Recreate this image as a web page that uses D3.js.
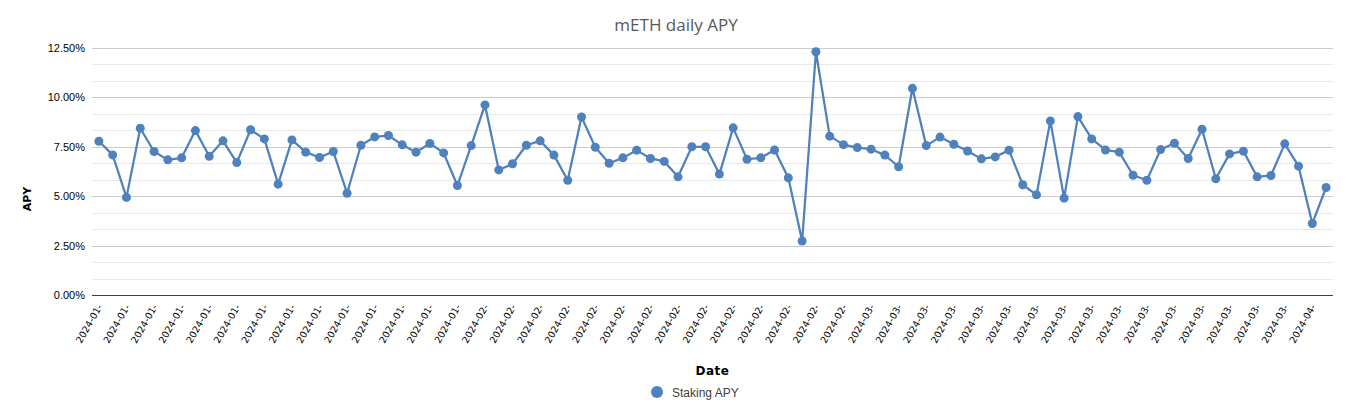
<!DOCTYPE html>
<meta charset="utf-8">
<style>
body{margin:0;background:#fff;}
.axis path{display:none;}
.axis text{font-family:"Liberation Sans",Arial,sans-serif;fill:#000;}
.grid-major{stroke:#cccccc;stroke-width:1;}
.grid-minor{stroke:#e8e8e8;stroke-width:1;}
</style>
<svg width="1354" height="408"></svg>
<script src="https://d3js.org/d3.v7.min.js"></script>
<script>
// categories: one point per day
var dates = [
  "2024-01-05","2024-01-06","2024-01-07","2024-01-08","2024-01-09","2024-01-10","2024-01-11","2024-01-12",
  "2024-01-13","2024-01-14","2024-01-15","2024-01-16","2024-01-17","2024-01-18","2024-01-19","2024-01-20",
  "2024-01-21","2024-01-22","2024-01-23","2024-01-24","2024-01-25","2024-01-26","2024-01-27","2024-01-28",
  "2024-01-29","2024-01-30","2024-01-31",
  "2024-02-01","2024-02-02","2024-02-03","2024-02-04","2024-02-05","2024-02-06","2024-02-07","2024-02-08",
  "2024-02-09","2024-02-10","2024-02-11","2024-02-12","2024-02-13","2024-02-14","2024-02-15","2024-02-16",
  "2024-02-17","2024-02-18","2024-02-19","2024-02-20","2024-02-21","2024-02-22","2024-02-23","2024-02-24",
  "2024-02-25","2024-02-26","2024-02-27","2024-02-28","2024-02-29",
  "2024-03-01","2024-03-02","2024-03-03","2024-03-04","2024-03-05","2024-03-06","2024-03-07","2024-03-08",
  "2024-03-09","2024-03-10","2024-03-11","2024-03-12","2024-03-13","2024-03-14","2024-03-15","2024-03-16",
  "2024-03-17","2024-03-18","2024-03-19","2024-03-20","2024-03-21","2024-03-22","2024-03-23","2024-03-24",
  "2024-03-25","2024-03-26","2024-03-27","2024-03-28","2024-03-29","2024-03-30","2024-03-31",
  "2024-04-01","2024-04-02","2024-04-03"
];
// staking APY in percent
var apy = [
  7.78, 7.09, 4.94, 8.44, 7.26, 6.84, 6.94, 8.32, 7.02, 7.80,
  6.70, 8.36, 7.90, 5.61, 7.85, 7.23, 6.96, 7.26, 5.15, 7.58,
  8.00, 8.07, 7.60, 7.23, 7.67, 7.19, 5.54, 7.56, 9.62, 6.33,
  6.64, 7.58, 7.80, 7.08, 5.81, 9.01, 7.48, 6.67, 6.94, 7.33,
  6.91, 6.76, 5.98, 7.50, 7.50, 6.12, 8.46, 6.87, 6.94, 7.34,
  5.93, 2.73, 12.31, 8.04, 7.61, 7.46, 7.38, 7.08, 6.49, 10.46,
  7.56, 7.99, 7.63, 7.29, 6.89, 6.99, 7.33, 5.58, 5.07, 8.81,
  4.90, 9.03, 7.90, 7.34, 7.23, 6.06, 5.81, 7.36, 7.68, 6.91,
  8.39, 5.88, 7.14, 7.28, 5.98, 6.05, 7.65, 6.52, 3.62, 5.44
];
var yTicks = [0, 2.5, 5, 7.5, 10, 12.5];
var seriesName = "Staking APY";
var color = "#4f81bd";

var svg = d3.select("svg"),
    margin = {top: 48, right: 21, bottom: 113, left: 92},
    width = +svg.attr("width") - margin.left - margin.right,
    height = +svg.attr("height") - margin.top - margin.bottom;

var x = d3.scaleBand().domain(dates).range([0, width]),
    y = d3.scaleLinear().domain([0, 12.5]).range([height, 0]);

var g = svg.append("g")
    .attr("transform", "translate(" + margin.left + "," + margin.top + ")");

// title
svg.append("text")
    .attr("x", 676).attr("y", 31)
    .attr("text-anchor", "middle")
    .style("font-family", "'Open Sans', sans-serif")
    .style("font-size", "17px")
    .style("fill", "#595959")
    .text("mETH daily APY");

// minor + major gridlines
var minor = d3.range(1, 15).map(function(i) { return i * 2.5 / 3; })
    .filter(function(v) { return Math.abs(v / 2.5 - Math.round(v / 2.5)) > 0.01; });
g.selectAll(".grid-minor")
    .data(minor)
    .enter().append("line")
        .attr("class", "grid-minor")
        .attr("x1", 0).attr("x2", width)
        .attr("y1", function(d) { return Math.round(y(d)) + 0.5; })
        .attr("y2", function(d) { return Math.round(y(d)) + 0.5; });
g.selectAll(".grid-major")
    .data(yTicks.slice(1))
    .enter().append("line")
        .attr("class", "grid-major")
        .attr("x1", 0).attr("x2", width)
        .attr("y1", function(d) { return Math.round(y(d)) + 0.5; })
        .attr("y2", function(d) { return Math.round(y(d)) + 0.5; });

// Y axis
g.append("g")
    .attr("class", "axis axis--y")
    .call(d3.axisLeft(y).tickValues(yTicks).tickSize(0).tickPadding(7)
        .tickFormat(function(d) { return d.toFixed(2) + "%"; }))
    .selectAll("text").style("font-size", "11px");

// X axis
var xAxis = g.append("g")
    .attr("class", "axis axis--x")
    .attr("transform", "translate(0," + height + ")")
    .call(d3.axisBottom(x)
        .tickValues(dates.filter(function(d, i) { return i % 2 === 0; }))
        .tickSize(0)
        .tickFormat(function(d) { return d.slice(0, 8); }));
xAxis.selectAll("text")
    .style("font-family", "'DejaVu Sans', sans-serif")
    .style("font-size", "9.5px")
    .attr("text-anchor", "end")
    .attr("dy", "0.35em")
    .attr("y", 0)
    .attr("transform", "translate(1,10) rotate(-60)");

g.append("line")
    .attr("x1", 0).attr("x2", width)
    .attr("y1", height + 0.5).attr("y2", height + 0.5)
    .style("stroke", "#404040");

// axis titles
svg.append("text")
    .attr("transform", "translate(31,199) rotate(-90)")
    .attr("text-anchor", "middle")
    .style("font-family", "'DejaVu Sans', sans-serif")
    .style("font-size", "11px")
    .style("font-weight", "bold")
    .text("APY");
svg.append("text")
    .attr("x", margin.left + width / 2).attr("y", 375)
    .attr("text-anchor", "middle")
    .style("font-family", "'DejaVu Sans', sans-serif")
    .style("font-size", "12px")
    .style("font-weight", "bold")
    .style("letter-spacing", "0.5px")
    .text("Date");

// line + markers
var line = d3.line()
    .x(function(d, i) { return x(dates[i]) + x.bandwidth() / 2; })
    .y(function(d) { return y(d); });
g.append("path")
    .datum(apy)
    .attr("fill", "none")
    .attr("stroke", color)
    .attr("stroke-width", 2.25)
    .attr("stroke-linejoin", "round")
    .attr("d", line);
g.selectAll(".dot")
    .data(apy)
    .enter().append("circle")
        .attr("class", "dot")
        .attr("cx", function(d, i) { return x(dates[i]) + x.bandwidth() / 2; })
        .attr("cy", function(d) { return y(d); })
        .attr("r", 4.5)
        .attr("fill", color);

// legend
var legend = svg.append("g").attr("transform", "translate(657,392)");
legend.append("circle").attr("r", 6).attr("fill", color);
legend.append("text")
    .attr("x", 15).attr("y", 4.5)
    .style("font-family", "'Liberation Sans', Arial, sans-serif")
    .style("font-size", "12px")
    .style("fill", "#404040")
    .text(seriesName);
</script>
